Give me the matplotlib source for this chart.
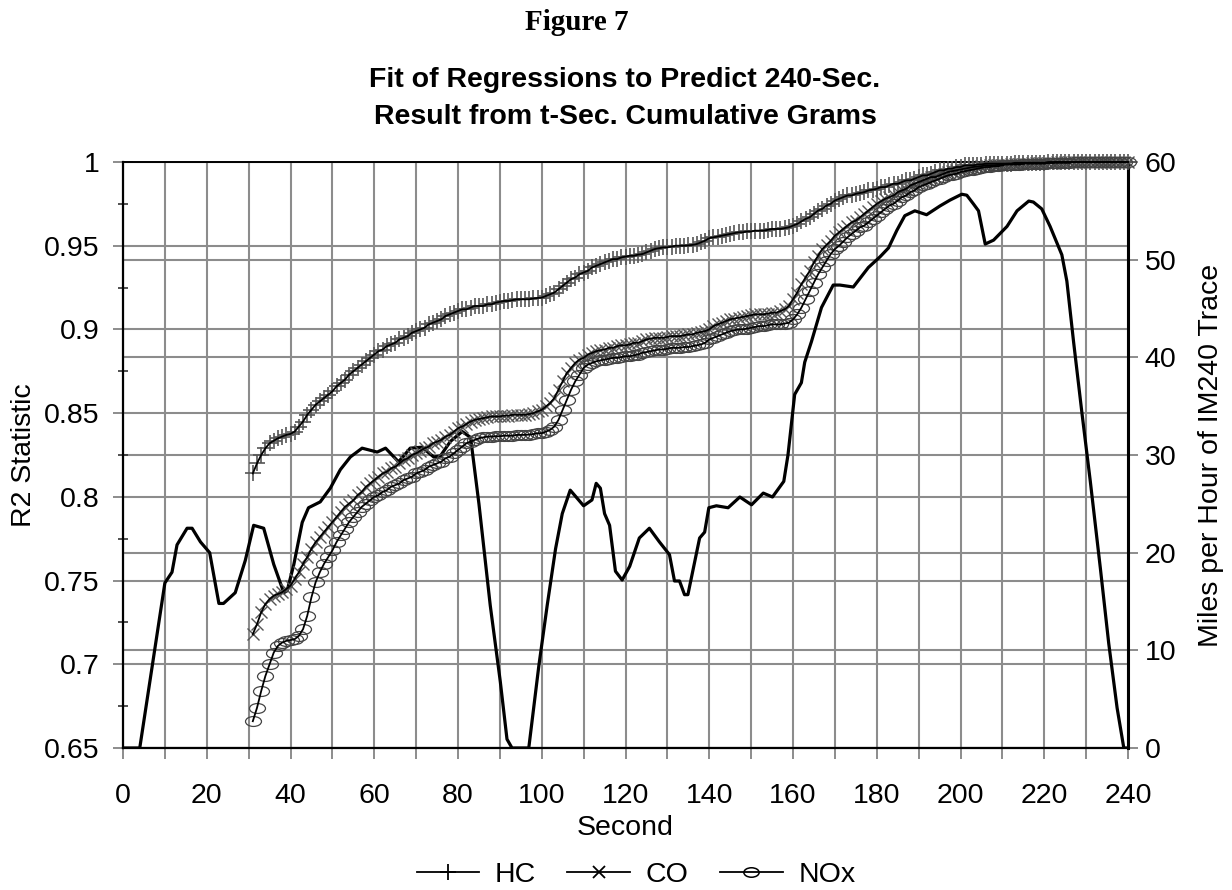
import numpy as np
import matplotlib
matplotlib.use("Agg")
import matplotlib.pyplot as plt
from matplotlib.path import Path
from matplotlib.lines import Line2D
from matplotlib.ticker import MultipleLocator, FuncFormatter

plt.rcParams['font.family'] = ['Liberation Sans', 'DejaVu Sans']

# R2 of the regressions, one value per second from t = 31 to 240
seconds = np.arange(31, 241)

hc = [0.814, 0.820, 0.825, 0.829, 0.832, 0.8335, 0.835, 0.836, 0.837, 0.8376,
      0.839, 0.842, 0.845, 0.849, 0.852, 0.855, 0.857, 0.859, 0.861, 0.863,
      0.866, 0.868, 0.870, 0.873, 0.875, 0.877, 0.879, 0.881, 0.883, 0.885,
      0.887, 0.888, 0.890, 0.891, 0.892, 0.894, 0.895, 0.896, 0.898, 0.899,
      0.900, 0.901, 0.903, 0.904, 0.905, 0.906, 0.908, 0.909, 0.910, 0.911,
      0.912, 0.912, 0.913, 0.914, 0.914, 0.914, 0.915, 0.915, 0.916, 0.9165,
      0.917, 0.917, 0.9175, 0.918, 0.918, 0.918, 0.918, 0.9185, 0.9188, 0.919,
      0.920, 0.921, 0.922, 0.924, 0.926, 0.928, 0.930, 0.931, 0.933, 0.934,
      0.935, 0.937, 0.938, 0.939, 0.940, 0.941, 0.942, 0.942, 0.943, 0.9435,
      0.944, 0.944, 0.9447, 0.945, 0.946, 0.947, 0.948, 0.9485, 0.949, 0.949,
      0.9495, 0.950, 0.950, 0.950, 0.9502, 0.9505, 0.951, 0.952, 0.953, 0.9545,
      0.955, 0.9555, 0.956, 0.9565, 0.957, 0.9575, 0.958, 0.958, 0.9585, 0.9585,
      0.959, 0.959, 0.959, 0.9595, 0.960, 0.960, 0.960, 0.9605, 0.961, 0.962,
      0.963, 0.9645, 0.966, 0.967, 0.969, 0.971, 0.972, 0.974, 0.975, 0.977,
      0.978, 0.979, 0.980, 0.980, 0.981, 0.9815, 0.982, 0.983, 0.9835, 0.984,
      0.985, 0.985, 0.986, 0.987, 0.987, 0.988, 0.989, 0.989, 0.990, 0.991,
      0.992, 0.992, 0.993, 0.994, 0.995, 0.995, 0.996, 0.996, 0.997, 0.997,
      0.998, 0.998, 0.998, 0.9985, 0.9985, 0.999, 0.999, 0.999, 0.999, 0.999,
      0.999, 0.999, 0.9995, 0.9995, 0.9995, 0.9995, 0.9995, 0.9995, 0.9995, 0.9995,
      1.0, 1.0, 1.0, 1.0, 1.0, 1.0, 1.0, 1.0, 1.0, 1.0,
      1.0, 1.0, 1.0, 1.0, 1.0, 1.0, 1.0, 1.0, 1.0, 1.0]

co = [0.718, 0.724, 0.731, 0.736, 0.739, 0.741, 0.742, 0.743, 0.745, 0.747,
      0.751, 0.755, 0.760, 0.764, 0.769, 0.773, 0.776, 0.779, 0.782, 0.785,
      0.788, 0.791, 0.794, 0.796, 0.798, 0.801, 0.803, 0.806, 0.808, 0.810,
      0.812, 0.814, 0.815, 0.817, 0.818, 0.820, 0.822, 0.823, 0.825, 0.826,
      0.8275, 0.829, 0.830, 0.832, 0.833, 0.834, 0.836, 0.837, 0.839, 0.841,
      0.842, 0.8435, 0.845, 0.846, 0.8465, 0.847, 0.8475, 0.848, 0.848, 0.848,
      0.8485, 0.8485, 0.849, 0.849, 0.849, 0.849, 0.8495, 0.850, 0.851, 0.852,
      0.854, 0.856, 0.859, 0.864, 0.869, 0.874, 0.877, 0.880, 0.882, 0.883,
      0.885, 0.886, 0.887, 0.8875, 0.888, 0.889, 0.889, 0.890, 0.8905, 0.8905,
      0.891, 0.892, 0.892, 0.893, 0.894, 0.8945, 0.895, 0.895, 0.895, 0.8955,
      0.896, 0.896, 0.896, 0.8965, 0.897, 0.897, 0.898, 0.8985, 0.899, 0.900,
      0.902, 0.903, 0.904, 0.905, 0.906, 0.9065, 0.907, 0.9075, 0.908, 0.9085,
      0.909, 0.909, 0.909, 0.9095, 0.910, 0.910, 0.911, 0.912, 0.914, 0.918,
      0.922, 0.927, 0.931, 0.935, 0.940, 0.944, 0.948, 0.9505, 0.953, 0.956,
      0.958, 0.960, 0.962, 0.964, 0.965, 0.967, 0.969, 0.971, 0.973, 0.975,
      0.9765, 0.978, 0.979, 0.980, 0.982, 0.983, 0.984, 0.986, 0.987, 0.988,
      0.989, 0.990, 0.991, 0.991, 0.992, 0.993, 0.994, 0.9945, 0.995, 0.9955,
      0.996, 0.9965, 0.997, 0.9972, 0.9975, 0.998, 0.998, 0.998, 0.9983, 0.9985,
      0.999, 0.999, 0.999, 0.999, 0.999, 0.9995, 0.9995, 0.9995, 0.9995, 0.9995,
      0.9995, 0.9995, 1.0, 1.0, 1.0, 1.0, 1.0, 1.0, 1.0, 1.0,
      1.0, 1.0, 1.0, 1.0, 1.0, 1.0, 1.0, 1.0, 1.0, 1.0]

nox = [0.666, 0.674, 0.684, 0.693, 0.700, 0.707, 0.711, 0.713, 0.714, 0.7145,
       0.715, 0.717, 0.721, 0.729, 0.740, 0.749, 0.755, 0.760, 0.764, 0.768,
       0.773, 0.777, 0.781, 0.785, 0.788, 0.791, 0.794, 0.796, 0.798, 0.800,
       0.801, 0.803, 0.804, 0.806, 0.807, 0.808, 0.810, 0.811, 0.812, 0.814,
       0.815, 0.816, 0.818, 0.819, 0.820, 0.821, 0.823, 0.824, 0.826, 0.828,
       0.830, 0.832, 0.833, 0.834, 0.835, 0.8355, 0.836, 0.836, 0.8362, 0.8362,
       0.8365, 0.8365, 0.8365, 0.837, 0.837, 0.837, 0.8372, 0.8375, 0.838, 0.838,
       0.839, 0.840, 0.842, 0.846, 0.852, 0.858, 0.864, 0.869, 0.873, 0.877,
       0.879, 0.880, 0.881, 0.8815, 0.882, 0.8825, 0.883, 0.883, 0.8835, 0.884,
       0.884, 0.8845, 0.885, 0.886, 0.8865, 0.887, 0.8875, 0.888, 0.888, 0.8885,
       0.889, 0.889, 0.889, 0.8895, 0.8895, 0.890, 0.8905, 0.891, 0.892, 0.894,
       0.895, 0.896, 0.897, 0.898, 0.899, 0.8995, 0.900, 0.900, 0.9005, 0.901,
       0.9015, 0.902, 0.902, 0.9025, 0.903, 0.903, 0.903, 0.9035, 0.904, 0.906,
       0.909, 0.913, 0.918, 0.923, 0.928, 0.933, 0.937, 0.941, 0.945, 0.948,
       0.950, 0.9525, 0.955, 0.957, 0.959, 0.961, 0.962, 0.964, 0.966, 0.968,
       0.970, 0.972, 0.974, 0.975, 0.977, 0.979, 0.980, 0.982, 0.983, 0.985,
       0.986, 0.987, 0.988, 0.989, 0.990, 0.991, 0.992, 0.9925, 0.993, 0.994,
       0.9945, 0.995, 0.9955, 0.996, 0.9965, 0.997, 0.997, 0.9975, 0.9975, 0.998,
       0.9985, 0.9985, 0.9985, 0.9985, 0.999, 0.999, 0.999, 0.999, 0.999, 0.999,
       0.9995, 0.9995, 0.9995, 0.9995, 0.9995, 0.9995, 1.0, 1.0, 1.0, 1.0,
       1.0, 1.0, 1.0, 1.0, 1.0, 1.0, 1.0, 1.0, 1.0, 1.0]

# IM240 speed trace (mph), read at the turning points of the curve
speed_t = [0, 4, 10, 11.7, 12.9, 15.3, 16.5, 18.5, 20.7, 22.9,
           24, 26.8, 29.2, 31.2, 33.6, 36, 38.4, 39.2, 40.8, 42.8,
           44.3, 47.1, 49.5, 51.9, 54.3, 57.1, 60.7, 62.7, 65.8, 68.6,
           71.4, 74.2, 75.8, 78.2, 81, 83, 85, 87.7, 90.1, 91.7,
           92.9, 96.9, 99.3, 101.3, 103.3, 104.9, 106.8, 110, 112, 113,
           114, 115, 116.2, 117.6, 119.2, 121, 123.3, 125.7, 128.1, 130.5,
           131.7, 132.9, 134.1, 134.9, 137.7, 138.9, 139.9, 141.7, 144.5, 147.3,
           150.1, 152.9, 155.1, 157.8, 158.8, 160.4, 162, 162.8, 164.4, 166.8,
           169.6, 171.2, 174.4, 178, 180.8, 182.8, 184.8, 186.7, 189.1, 191.9,
           195.1, 197.5, 200.3, 201.5, 203.1, 204.3, 205.9, 207.9, 211.1, 213.5,
           216.3, 217.4, 219.4, 221.4, 224.2, 225.4, 227, 229, 231, 233.4,
           235.4, 237.4, 239, 240]
speed_mph = [0, 0, 16.9, 18.0, 20.8, 22.5, 22.5, 21.1, 20.0, 14.8,
             14.8, 15.9, 19.2, 22.8, 22.5, 18.8, 15.9, 16.1, 18.8, 23.1,
             24.6, 25.2, 26.6, 28.5, 29.8, 30.7, 30.3, 30.7, 29.3, 30.7,
             30.8, 29.8, 29.9, 31.4, 32.4, 31.8, 25.0, 14.6, 6.8, 0.9,
             0, 0, 8.4, 14.6, 20.4, 24.0, 26.4, 24.8, 25.4, 27.1,
             26.6, 24.0, 22.8, 18.1, 17.2, 18.6, 21.5, 22.5, 21.1, 19.8,
             17.1, 17.1, 15.7, 15.7, 21.5, 22.1, 24.6, 24.8, 24.6, 25.7,
             24.9, 26.1, 25.7, 27.3, 30.0, 36.2, 37.4, 39.5, 41.6, 45.1,
             47.4, 47.4, 47.2, 49.2, 50.3, 51.2, 53.0, 54.5, 55.0, 54.6,
             55.5, 56.1, 56.7, 56.6, 55.7, 55.0, 51.6, 52.0, 53.4, 55.0,
             56.0, 55.9, 55.2, 53.4, 50.5, 47.8, 41.6, 34.3, 27.3, 18.4,
             10.7, 4.1, 0, 0]

FS = 20.5
GRID = '#8c8c8c'
MARK = '#555555'

# flattened circle, the NOx markers look like ellipses
circ = Path.unit_circle()
ellipse = Path(circ.vertices * np.array([1.0, 0.62]), circ.codes)

fig = plt.figure(figsize=(12.32, 8.9), dpi=100)
ax = fig.add_axes([123 / 1232, 1 - 748 / 890, 1005 / 1232, 586 / 890])
ax2 = ax.twinx()
# R2 axis on top so the mph gridlines stay underneath everything
ax.set_zorder(2)
ax2.set_zorder(1)
ax.patch.set_visible(False)

ax.set_xlim(0, 240)
ax.set_ylim(0.65, 1.0)
ax2.set_ylim(0, 60)

ax.xaxis.set_major_locator(MultipleLocator(10))
ax.xaxis.set_major_formatter(FuncFormatter(lambda v, p: '%d' % v if round(v) % 20 == 0 else ''))
ax.yaxis.set_major_locator(MultipleLocator(0.05))
ax.yaxis.set_minor_locator(MultipleLocator(0.025))
ax.yaxis.set_major_formatter(FuncFormatter(lambda v, p: ('%.2f' % v).rstrip('0').rstrip('.')))
ax2.yaxis.set_major_locator(MultipleLocator(10))

ax.grid(True, which='major', axis='both', color=GRID, linewidth=1.5)
ax.set_axisbelow(True)
ax2.grid(True, which='major', axis='y', color=GRID, linewidth=1.5)

ax.tick_params(axis='y', which='major', direction='inout', length=14, width=1.4,
               color=GRID, labelsize=FS, pad=10)
ax.tick_params(axis='y', which='minor', direction='inout', length=7, width=1.2,
               color='#333333')
ax.tick_params(axis='x', which='major', direction='out', length=8, width=1.4,
               color=GRID, labelsize=FS, pad=17)
ax2.tick_params(axis='y', direction='inout', length=14, width=1.4, color=GRID,
                labelsize=FS, pad=5)

for s in ['left', 'bottom']:
    ax.spines[s].set_linewidth(1.6)
ax.spines['top'].set_linewidth(1.4)
ax.spines['right'].set_linewidth(2.2)
for s in ax2.spines.values():
    s.set_visible(False)

# speed trace uses the mph scale of the twin axis
ax.plot(speed_t, speed_mph, color='black', linewidth=2.3, transform=ax2.transData, zorder=3)

# markers first, thin black line over them
ax.plot(seconds, hc, linestyle='none', marker='+', markersize=11, markeredgewidth=1.2,
        markeredgecolor=MARK, zorder=4, clip_on=False)
ax.plot(seconds, hc, color='black', linewidth=1.3, zorder=5, clip_on=False)
ax.plot(seconds, co, linestyle='none', marker='x', markersize=8.5, markeredgewidth=1.0,
        markeredgecolor=MARK, zorder=4, clip_on=False)
ax.plot(seconds, co, color='black', linewidth=1.3, zorder=5, clip_on=False)
ax.plot(seconds, nox, linestyle='none', marker=ellipse, markersize=11.5, markeredgewidth=0.9,
        markerfacecolor='none', markeredgecolor='#444444', zorder=4, clip_on=False)
ax.plot(seconds, nox, color='black', linewidth=1.3, zorder=5, clip_on=False)

fig.text(577 / 1232, 1 - 23 / 890, 'Figure 7', family='Liberation Serif', weight='bold',
         fontsize=21, ha='center', va='center')
fig.text(625 / 1232, 1 - 80 / 890, 'Fit of Regressions to Predict 240-Sec.', weight='bold',
         fontsize=FS, ha='center', va='center')
fig.text(625 / 1232, 1 - 117 / 890, 'Result from t-Sec. Cumulative Grams', weight='bold',
         fontsize=FS, ha='center', va='center')
fig.text(24 / 1232, 1 - 455 / 890, 'R2 Statistic', rotation=90, fontsize=FS,
         ha='center', va='center')
fig.text(1211 / 1232, 1 - 455 / 890, 'Miles per Hour of IM240 Trace', rotation=90,
         fontsize=FS, ha='center', va='center')
fig.text(625 / 1232, 1 - 828 / 890, 'Second', fontsize=FS, ha='center', va='center')

handles = [
    Line2D([], [], color='black', linewidth=1.3, marker='+', markersize=11, markeredgewidth=1.3),
    Line2D([], [], color='black', linewidth=1.3, marker='x', markersize=9, markeredgewidth=1.3),
    Line2D([], [], color='black', linewidth=1.3, marker=ellipse, markersize=11,
           markerfacecolor='none', markeredgewidth=1.1),
]
fig.legend(handles, ['HC', 'CO', 'NOx'], loc='center', bbox_to_anchor=(636 / 1232, 1 - 875 / 890),
           ncol=3, frameon=False, fontsize=FS, handlelength=2.2, handletextpad=0.55,
           columnspacing=1.1, borderpad=0)

fig.savefig('out.png', dpi=100)
